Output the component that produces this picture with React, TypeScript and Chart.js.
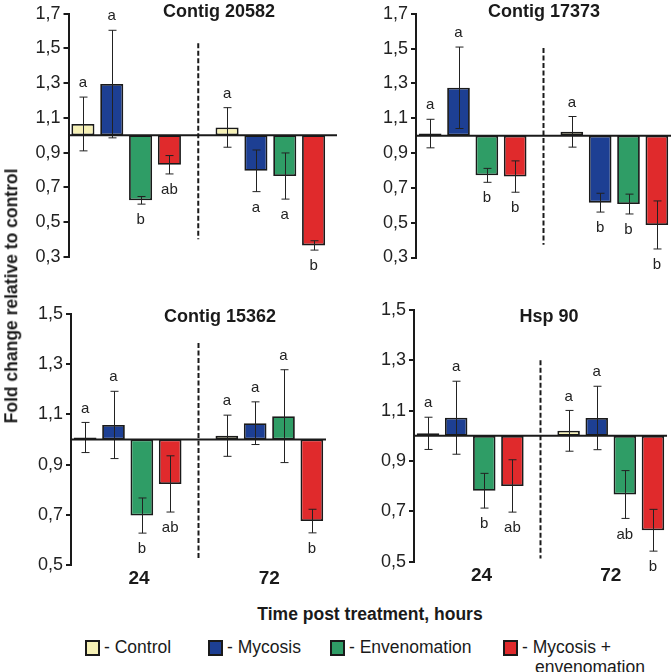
import React, { useEffect, useRef } from 'react';
import { Chart, registerables } from 'chart.js';

Chart.register(...registerables);

// ---------- data ----------
const treatments = ['Control', 'Mycosis', 'Envenomation', 'Mycosis + envenomation'];
const treatmentColors = ['#f6f1b6', '#1d3f93', '#2f9d66', '#e02a2c'];
// 9 slots: 4 bars at 24 h, an empty gap, 4 bars at 72 h
const slotLabels = ['C-24', 'M-24', 'E-24', 'ME-24', 'gap', 'C-72', 'M-72', 'E-72', 'ME-72'];
const slotTreatment = [0, 1, 2, 3, -1, 0, 1, 2, 3];
const groupLabels = ['24', '72'];
const groupLabelPos = [1.9, 6.5];

const ticksTop = [0.3, 0.5, 0.7, 0.9, 1.1, 1.3, 1.5, 1.7];
const ticksBottom = [0.5, 0.7, 0.9, 1.1, 1.3, 1.5];

// Contig 20582
const c20582Values = [1.065, 1.295, 0.625, 0.83, null, 1.045, 0.795, 0.765, 0.365];
const c20582Errors = [0.155, 0.31, 0.022, 0.053, null, 0.114, 0.12, 0.133, 0.027];
const c20582Letters = ['a', 'a', 'b', 'ab', '', 'a', 'a', 'a', 'b'];
const c20582Dash = [0.4, 1.53];

// Contig 17373
const c17373Values = [1.012, 1.275, 0.772, 0.765, null, 1.022, 0.615, 0.607, 0.487];
const c17373Errors = [0.082, 0.234, 0.04, 0.09, null, 0.088, 0.054, 0.057, 0.138];
const c17373Letters = ['a', 'a', 'b', 'b', '', 'a', 'b', 'b', 'b'];
const c17373Dash = [0.373, 1.504];

// Contig 15362
const c15362Values = [1.008, 1.058, 0.697, 0.823, null, 1.015, 1.065, 1.093, 0.675];
const c15362Errors = [0.06, 0.134, 0.07, 0.112, null, 0.082, 0.085, 0.185, 0.047];
const c15362Letters = ['a', 'a', 'b', 'ab', '', 'a', 'a', 'a', 'b'];
const c15362Dash = [0.528, 1.384];

// Hsp 90
const hsp90Values = [1.01, 1.072, 0.782, 0.801, null, 1.02, 1.071, 0.767, 0.625];
const hsp90Errors = [0.064, 0.145, 0.069, 0.104, null, 0.081, 0.126, 0.095, 0.083];
const hsp90Letters = ['a', 'a', 'b', 'ab', '', 'a', 'a', 'ab', 'b'];
const hsp90Dash = [0.513, 1.3];

// ---------- layout ----------
const FONT = '"Liberation Sans", Arial, Helvetica, sans-serif';
const INK = '#1a1a1a';

type Panel = {
  title: string;
  ticks: number[];
  values: (number | null)[];
  errors: (number | null)[];
  letters: string[];
  dash: number[];
  showGroups: boolean;
  box: { left: number; top: number; width: number; height: number };
  pad: { top: number; right: number; bottom: number };
  yWidth: number;
  baseExt: number;
  titleAt: [number, number];
};

const panels: Panel[] = [
  {
    title: 'Contig 20582', ticks: ticksTop, values: c20582Values, errors: c20582Errors,
    letters: c20582Letters, dash: c20582Dash, showGroups: false,
    box: { left: 0, top: 0, width: 340, height: 285 },
    pad: { top: 10, right: 12, bottom: 28.3 }, yWidth: 68.5, baseExt: 9, titleAt: [219, 11],
  },
  {
    title: 'Contig 17373', ticks: ticksTop, values: c17373Values, errors: c17373Errors,
    letters: c17373Letters, dash: c17373Dash, showGroups: false,
    box: { left: 340, top: 0, width: 331, height: 285 },
    pad: { top: 12.5, right: 0, bottom: 27.5 }, yWidth: 76, baseExt: 0, titleAt: [544, 11],
  },
  {
    title: 'Contig 15362', ticks: ticksBottom, values: c15362Values, errors: c15362Errors,
    letters: c15362Letters, dash: c15362Dash, showGroups: true,
    box: { left: 0, top: 290, width: 340, height: 305 },
    pad: { top: 24, right: 14, bottom: 30 }, yWidth: 71, baseExt: 0, titleAt: [220, 316],
  },
  {
    title: 'Hsp 90', ticks: ticksBottom, values: hsp90Values, errors: hsp90Errors,
    letters: hsp90Letters, dash: hsp90Dash, showGroups: true,
    box: { left: 340, top: 290, width: 331, height: 305 },
    pad: { top: 20, right: 4, bottom: 33.3 }, yWidth: 74, baseExt: 0, titleAt: [549, 316],
  },
];

function PanelChart({ p }: { p: Panel }) {
  const ref = useRef<HTMLCanvasElement | null>(null);
  useEffect(() => {
    if (!ref.current) return;
    const overlay = {
      id: 'overlay',
      afterDatasetsDraw(chart: any) {
        const { ctx, chartArea } = chart;
        const x = chart.scales.x;
        const y = chart.scales.y;
        ctx.save();
        // dashed separator
        const dx = x.getPixelForValue(4);
        ctx.strokeStyle = INK;
        ctx.lineWidth = 2;
        ctx.setLineDash([5, 2.5]);
        ctx.beginPath();
        ctx.moveTo(dx, y.getPixelForValue(p.dash[1]));
        ctx.lineTo(dx, y.getPixelForValue(p.dash[0]));
        ctx.stroke();
        ctx.setLineDash([]);
        // error bars
        ctx.lineWidth = 1;
        ctx.strokeStyle = '#222';
        p.values.forEach((v, i) => {
          const e = p.errors[i];
          if (v == null || e == null) return;
          const cx = Math.round(x.getPixelForValue(i)) + 0.5;
          const t = y.getPixelForValue(v + e);
          const b = y.getPixelForValue(v - e);
          ctx.beginPath();
          ctx.moveTo(cx, t);
          ctx.lineTo(cx, b);
          ctx.moveTo(cx - 4, t);
          ctx.lineTo(cx + 4, t);
          ctx.moveTo(cx - 4, b);
          ctx.lineTo(cx + 4, b);
          ctx.stroke();
        });
        // baseline at 1.0
        const by = y.getPixelForValue(1);
        ctx.strokeStyle = INK;
        ctx.lineWidth = 2;
        ctx.beginPath();
        ctx.moveTo(chartArea.left, by);
        ctx.lineTo(chartArea.right + p.baseExt, by);
        ctx.stroke();
        // letters
        ctx.fillStyle = '#222';
        ctx.font = `15px ${FONT}`;
        ctx.textAlign = 'center';
        ctx.textBaseline = 'middle';
        p.values.forEach((v, i) => {
          const e = p.errors[i];
          if (v == null || e == null || !p.letters[i]) return;
          const cx = x.getPixelForValue(i);
          if (v >= 1) ctx.fillText(p.letters[i], cx, y.getPixelForValue(v + e) - 14);
          else ctx.fillText(p.letters[i], cx, y.getPixelForValue(v - e) + 16);
        });
        // group labels
        if (p.showGroups) {
          ctx.font = `bold 19px ${FONT}`;
          ctx.fillStyle = INK;
          groupLabels.forEach((g, k) => {
            ctx.fillText(g, x.getPixelForValue(groupLabelPos[k]), chartArea.bottom + 14);
          });
        }
        ctx.restore();
      },
    };
    const chart = new Chart(ref.current, {
      type: 'bar',
      data: {
        labels: slotLabels,
        datasets: [
          {
            data: p.values.map((v) => (v == null ? null : [1, v])) as any,
            backgroundColor: slotTreatment.map((t) => (t < 0 ? 'rgba(0,0,0,0)' : treatmentColors[t])),
            borderColor: INK,
            borderWidth: 1.8,
            borderSkipped: false,
            barPercentage: 0.8,
            categoryPercentage: 1,
          },
        ],
      },
      options: {
        responsive: false,
        animation: false,
        devicePixelRatio: 1,
        layout: { padding: { left: 0, top: p.pad.top, right: p.pad.right, bottom: p.pad.bottom } },
        plugins: { legend: { display: false }, tooltip: { enabled: false }, title: { display: false } },
        scales: {
          x: { type: 'category', display: false, offset: true },
          y: {
            type: 'linear',
            min: p.ticks[0],
            max: p.ticks[p.ticks.length - 1],
            afterBuildTicks: (s: any) => {
              s.ticks = p.ticks.map((v) => ({ value: v }));
            },
            afterFit: (s: any) => {
              s.width = p.yWidth;
            },
            ticks: {
              callback: (v: any) => Number(v).toFixed(1).replace('.', ','),
              font: { family: FONT, size: 18 },
              color: '#222',
              padding: 3,
            },
            grid: { drawOnChartArea: false, drawTicks: true, tickLength: 5, color: INK, lineWidth: 2 },
            border: { display: true, color: INK, width: 2 },
          },
        },
      },
      plugins: [overlay],
    });
    return () => chart.destroy();
  }, [p]);
  return (
    <canvas
      ref={ref}
      width={p.box.width}
      height={p.box.height}
      style={{ position: 'absolute', left: p.box.left, top: p.box.top, width: p.box.width, height: p.box.height }}
    />
  );
}

const legendX = [85, 208, 330, 503];

export default function App() {
  const center: React.CSSProperties = {
    position: 'absolute',
    transform: 'translate(-50%, -50%)',
    whiteSpace: 'nowrap',
    lineHeight: 1,
  };
  return (
    <div
      style={{
        position: 'absolute', left: 0, top: 0, width: 671, height: 672, background: '#fff',
        fontFamily: FONT, color: INK, overflow: 'hidden',
      }}
    >
      {panels.map((p, i) => (
        <PanelChart key={i} p={p} />
      ))}
      {panels.map((p, i) => (
        <div key={'t' + i} style={{ ...center, left: p.titleAt[0], top: p.titleAt[1], fontWeight: 'bold', fontSize: 18 }}>
          {p.title}
        </div>
      ))}
      <div
        style={{
          ...center, left: 12, top: 296, fontWeight: 'bold', fontSize: 17.5,
          transform: 'translate(-50%, -50%) rotate(-90deg)',
        }}
      >
        Fold change relative to control
      </div>
      <div style={{ ...center, left: 370, top: 615, fontWeight: 'bold', fontSize: 17.5 }}>
        Time post treatment, hours
      </div>
      {treatments.map((t, i) => (
        <div key={'l' + i} style={{ position: 'absolute', left: legendX[i], top: 640, display: 'flex', alignItems: 'flex-start' }}>
          <div
            style={{
              width: 15, height: 16, boxSizing: 'border-box', border: `2px solid ${INK}`,
              background: treatmentColors[i], marginTop: 0, flex: 'none',
            }}
          />
          <div style={{ fontSize: 17.5, lineHeight: '20px', marginLeft: 4, marginTop: -3, whiteSpace: 'nowrap' }}>
            {i === 3 ? (
              <>
                <div>- Mycosis +</div>
                <div style={{ paddingLeft: 13 }}>envenomation</div>
              </>
            ) : (
              '- ' + t
            )}
          </div>
        </div>
      ))}
    </div>
  );
}
